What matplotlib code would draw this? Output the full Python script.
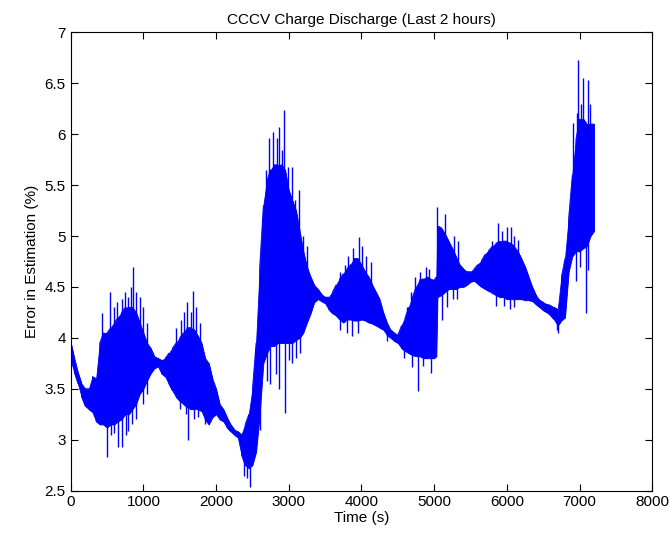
import numpy as np
import matplotlib.pyplot as plt

plt.rcParams['font.family'] = ['Liberation Sans', 'DejaVu Sans']

# sample times of the dense band (50 s grid, with the step near 5040 s)
t_body = np.r_[np.arange(0, 5001, 50), 5030, 5045, np.arange(5100, 7201, 50)].astype(float)

# lower / upper edge of the dense band
err_lo = [3.78, 3.66, 3.55, 3.42, 3.33, 3.30, 3.27, 3.18, 3.15, 3.15,
          3.12, 3.15, 3.15, 3.18, 3.20, 3.25, 3.25, 3.30, 3.35, 3.45,
          3.50, 3.58, 3.65, 3.70, 3.72, 3.65, 3.62, 3.55, 3.48, 3.42,
          3.38, 3.35, 3.32, 3.30, 3.30, 3.30, 3.28, 3.20, 3.15, 3.22,
          3.25, 3.20, 3.18, 3.12, 3.08, 3.05, 3.02, 2.85, 2.75, 2.72,
          2.75, 2.88, 3.25, 3.75, 3.85, 3.92, 3.92, 3.95, 3.95, 3.95,
          3.95, 3.95, 3.98, 4.00, 4.05, 4.15, 4.24, 4.35, 4.38, 4.36,
          4.34, 4.28, 4.24, 4.22, 4.18, 4.15, 4.18, 4.18, 4.17, 4.17,
          4.18, 4.17, 4.15, 4.14, 4.12, 4.10, 4.08, 4.03, 4.00, 3.97,
          3.95, 3.90, 3.87, 3.85, 3.83, 3.82, 3.82, 3.80, 3.80, 3.80,
          3.80,
          3.82, 4.40,
          4.42, 4.45, 4.48, 4.48, 4.48, 4.50, 4.50, 4.52, 4.55, 4.56,
          4.53, 4.50, 4.48, 4.46, 4.44, 4.42, 4.40, 4.40, 4.38, 4.38,
          4.38, 4.38, 4.38, 4.37, 4.37, 4.36, 4.33, 4.30, 4.27, 4.25,
          4.22, 4.18, 4.12, 4.17, 4.20, 4.65, 4.80, 4.85, 4.85, 4.88,
          4.90, 5.00, 5.05]
err_hi = [3.96, 3.80, 3.66, 3.55, 3.50, 3.50, 3.62, 3.60, 3.95, 4.05,
          4.05, 4.10, 4.15, 4.20, 4.25, 4.30, 4.30, 4.30, 4.25, 4.15,
          4.05, 3.95, 3.90, 3.82, 3.80, 3.78, 3.80, 3.85, 3.90, 3.95,
          4.00, 4.05, 4.10, 4.10, 4.08, 4.02, 3.95, 3.80, 3.75, 3.60,
          3.50, 3.35, 3.30, 3.22, 3.15, 3.10, 3.08, 3.05, 3.15, 3.25,
          3.50, 3.95, 4.70, 5.30, 5.55, 5.65, 5.70, 5.70, 5.70, 5.65,
          5.45, 5.35, 5.25, 5.05, 4.85, 4.70, 4.60, 4.52, 4.48, 4.43,
          4.40, 4.40, 4.45, 4.52, 4.58, 4.63, 4.68, 4.72, 4.78, 4.78,
          4.72, 4.65, 4.60, 4.52, 4.45, 4.38, 4.25, 4.15, 4.08, 4.05,
          4.03, 4.12, 4.20, 4.30, 4.40, 4.50, 4.57, 4.58, 4.60, 4.58,
          4.57,
          4.60, 5.10,
          5.08, 5.02, 4.95, 4.88, 4.80, 4.72, 4.68, 4.65, 4.65, 4.68,
          4.72, 4.76, 4.82, 4.86, 4.90, 4.93, 4.95, 4.95, 4.95, 4.93,
          4.90, 4.85, 4.78, 4.70, 4.60, 4.50, 4.42, 4.37, 4.35, 4.33,
          4.32, 4.30, 4.28, 4.60, 4.78, 5.18, 5.60, 5.95, 6.15, 6.15,
          6.10, 6.10, 6.10]

# spikes poking above the band
t_up = [430, 540, 590, 640, 700, 747, 790, 830, 861, 900,
        950, 1000, 1050, 1450, 1520, 1560, 1604, 1650, 1687, 1730,
        1780, 2686, 2732, 2787, 2842, 2870, 2900, 2938, 2993, 3048,
        3085, 3145, 3200, 3250, 3700, 3773, 3820, 3880, 3970, 4010,
        4060, 4130, 4620, 4680, 4730, 4810, 4890, 4930, 5035, 5148,
        5270, 5330, 5800, 5873, 5930, 5996, 6060, 6100, 6160, 6913,
        6960, 6983, 7020, 7050, 7110, 7140]
err_up = [4.24, 4.45, 4.30, 4.35, 4.38, 4.45, 4.40, 4.50, 4.70, 4.45,
          4.40, 4.30, 4.15, 4.10, 4.18, 4.25, 4.35, 4.25, 4.46, 4.30,
          4.15, 5.65, 5.96, 6.02, 5.96, 6.07, 5.85, 6.24, 5.68, 5.68,
          5.35, 5.45, 5.00, 4.90, 4.65, 4.72, 4.80, 4.88, 4.99, 4.90,
          4.80, 4.75, 4.30, 4.45, 4.60, 4.65, 4.70, 4.68, 5.29, 5.22,
          5.00, 4.95, 4.95, 5.13, 5.05, 5.09, 5.09, 5.00, 4.96, 6.11,
          6.21, 6.73, 6.30, 6.55, 6.53, 6.30]

# spikes dropping below the band
t_down = [495, 560, 590, 650, 701, 760, 793, 850, 900, 1000,
          1050, 1500, 1580, 1618, 1700, 1750, 1850, 2390, 2430, 2466,
          2600, 2700, 2740, 2820, 2860, 2948, 3000, 3050, 3100, 3150,
          3700, 3800, 3865, 3950, 4350, 4580, 4700, 4780, 4850, 4950,
          5103, 5180, 5260, 5320, 5850, 5960, 6043, 6100, 6690, 6707,
          6950, 7000, 7084, 7110]
err_down = [2.83, 3.05, 3.07, 2.93, 2.93, 3.05, 3.09, 3.15, 3.20, 3.35,
            3.45, 3.30, 3.25, 3.00, 3.20, 3.22, 3.15, 2.64, 2.62, 2.54,
            3.10, 3.58, 3.55, 3.65, 3.50, 3.26, 3.78, 3.75, 3.80, 3.85,
            4.08, 4.05, 4.02, 4.05, 3.97, 3.80, 3.71, 3.48, 3.72, 3.66,
            4.18, 4.30, 4.38, 4.38, 4.31, 4.31, 4.28, 4.30, 4.08, 4.05,
            4.56, 4.70, 4.24, 4.67]

err_lo = np.array(err_lo)
err_hi = np.array(err_hi)
blue = '#0000ff'

fig = plt.figure(figsize=(6.7, 5.42), dpi=100)
ax = fig.add_axes([0.1055, 0.0948, 0.868, 0.8454])

ax.fill_between(t_body, err_lo, err_hi, color=blue, lw=0.6)

# vertical strokes between the band edges
xs = np.repeat(t_body, 2)
ys = np.column_stack([err_lo, err_hi])
ys[1::2] = ys[1::2, ::-1]
ax.plot(xs, ys.ravel(), color=blue, lw=0.6)

mid = (err_lo + err_hi) / 2
ax.vlines(t_up, np.interp(t_up, t_body, mid), err_up, color=blue, lw=1.0)
ax.vlines(t_down, np.interp(t_down, t_body, mid), err_down, color=blue, lw=1.0)

ax.set_xlim(0, 8000)
ax.set_ylim(2.5, 7)
ax.set_xticks(np.arange(0, 8001, 1000))
ax.set_yticks(np.arange(2.5, 7.01, 0.5))
ax.set_yticklabels(['2.5', '3', '3.5', '4', '4.5', '5', '5.5', '6', '6.5', '7'])
ax.tick_params(direction='in', top=True, right=True, length=5, labelsize=11, width=0.8)
for s in ax.spines.values():
    s.set_linewidth(0.8)

ax.set_title('CCCV Charge Discharge (Last 2 hours)', fontsize=11, pad=6)
ax.set_xlabel('Time (s)', fontsize=11, labelpad=1)
ax.set_ylabel('Error in Estimation (%)', fontsize=11, labelpad=4)

fig.savefig('out.png', dpi=100)
